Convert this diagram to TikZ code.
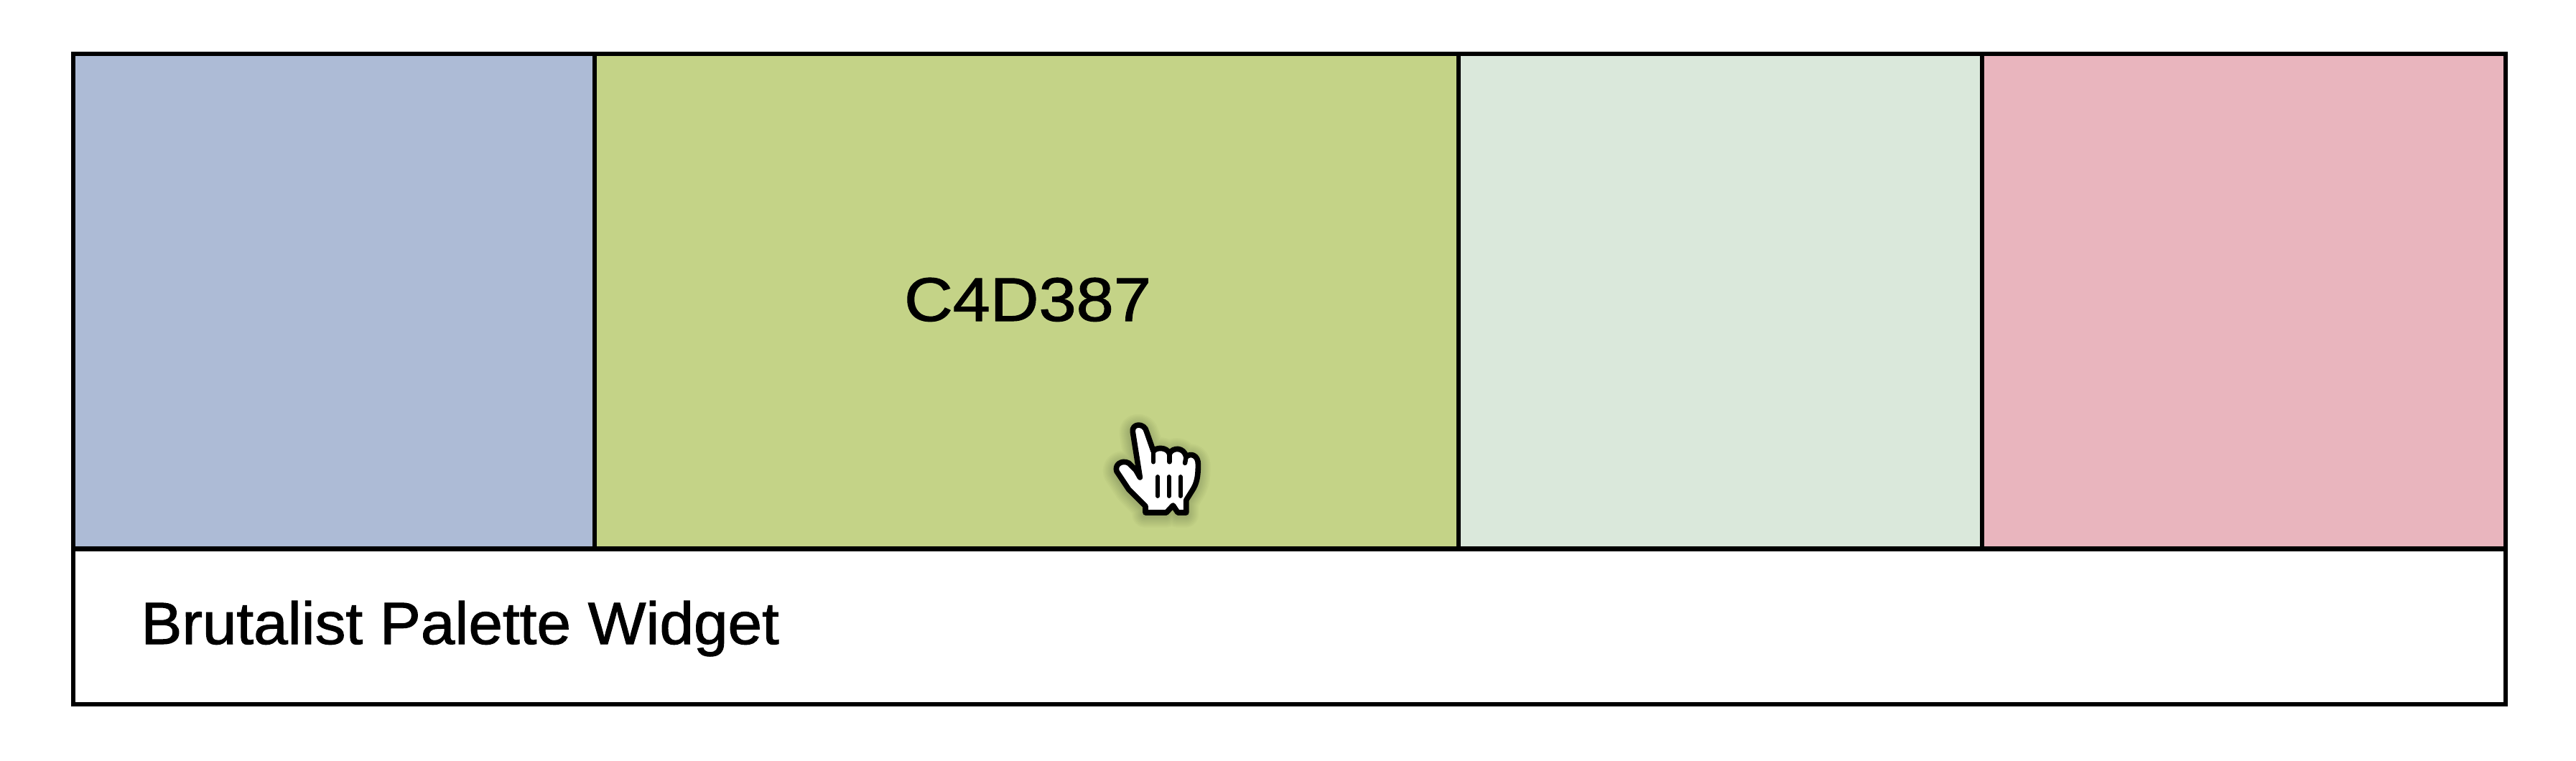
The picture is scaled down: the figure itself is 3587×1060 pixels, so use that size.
\documentclass[tikz,border=0pt]{standalone}
\usepackage{fontspec}
\setmainfont{Liberation Sans}
\newfontfamily\codeface[FakeBold=1.3,FakeStretch=1.09]{Liberation Sans}
\newfontfamily\titleface[FakeBold=1.3,FakeStretch=1.03]{Liberation Sans}
\definecolor{swblue}{HTML}{ADBBD6}
\definecolor{swgreen}{HTML}{C4D387}
\definecolor{swmint}{HTML}{DAE8DB}
\definecolor{swpink}{HTML}{E9B5BE}
\tikzset{
  x=0.5pt,y=-0.5pt,
  rule/.style={draw=black,line width=3.3pt},
  codelabel/.style={inner sep=0pt,text=black,font=\codeface\fontsize{43pt}{43pt}\selectfont},
  titlelabel/.style={inner sep=0pt,text=black,font=\titleface\fontsize{41.5pt}{41.5pt}\selectfont},
  handline/.style={line cap=round,line join=round},
}
\def\handoutline{(232,125) .. controls (226,88) and (282,85) .. (290,125)
  -- (318,205) .. controls (330,188) and (375,188) .. (385,215)
  .. controls (400,188) and (445,188) .. (455,228)
  .. controls (475,212) and (505,222) .. (505,260)
  .. controls (505,310) and (500,340) .. (480,370)
  -- (455,410) -- (455,462) -- (420,462) -- (400,432) -- (372,462) -- (285,462) -- (285,435)
  -- (215,365) -- (165,290)
  .. controls (155,262) and (185,240) .. (215,255)
  -- (245,285) -- (262,315) -- cycle}
\begin{document}
\begin{tikzpicture}
\useasboundingbox (0,0) rectangle (3587,1060);
\fill[white] (0,0) rectangle (3587,1060);
\fill[swblue] (102,75) rectangle (828,765);
\fill[swgreen] (828,75) rectangle (2031,765);
\fill[swmint] (2031,75) rectangle (2760,765);
\fill[swpink] (2760,75) rectangle (3489,765);
\draw[rule] (102,75) rectangle (3489,981);
\draw[rule] (102,764.5) -- (3489,764.5);
\draw[rule] (828,75) -- (828,764.5);
\draw[rule] (2031,75) -- (2031,764.5);
\draw[rule] (2760,75) -- (2760,764.5);
\node[codelabel,anchor=base] (code) at (1431,447) {C4D387};
\node[titlelabel,anchor=base west] (title) at (196,897) {Brutalist Palette Widget};
\begin{scope}[shift={(1500,560)},x=0.1667pt,y=-0.1667pt]
  \foreach \w in {18,16,14,12,10,8,6,4}
    \draw[handline,black,opacity=0.025,line width=\w pt,shift={(-2,8)}] \handoutline;
  \draw[handline,fill=white,draw=black,line width=3.8pt] \handoutline;
  \draw[handline,line width=3.2pt] (318,205) -- (318,250);
  \draw[handline,line width=3.2pt] (385,215) -- (385,250);
  \draw[handline,line width=3.2pt] (455,228) -- (450,255);
  \draw[handline,line width=2.9pt] (336,312) -- (336,393);
  \draw[handline,line width=2.9pt] (383,312) -- (383,393);
  \draw[handline,line width=2.9pt] (431,312) -- (431,393);
\end{scope}
\end{tikzpicture}
\end{document}
